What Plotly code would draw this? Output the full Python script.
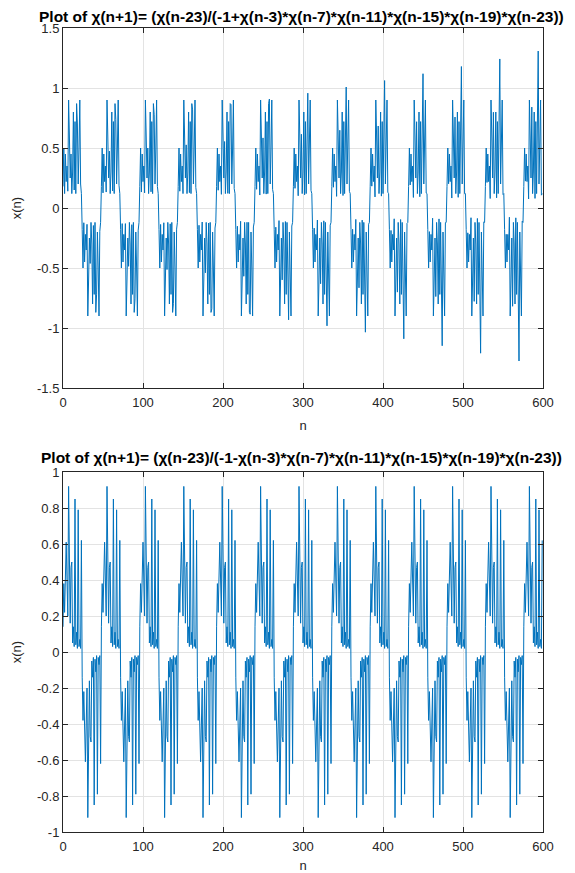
import plotly.graph_objects as go

# sample index
n = list(range(0, 600))

# x(n) for the "-1+" recurrence, 25 blocks of 24 samples
top_x = [
 0.18, 0.50, 0.120, 0.45, 0.22, 0.35, 0.140, 0.90, 0.60, 0.25, 0.450, 0.12, 0.30, 0.80, 0.150, 0.72, 0.12, 0.87, 0.700, 0.20, 0.50, 0.90, 0.200, 0.12,
 -0.18, -0.50, -0.123, -0.45, -0.22, -0.35, -0.136, -0.90, -0.60, -0.25, -0.462, -0.12, -0.30, -0.80, -0.146, -0.72, -0.12, -0.87, -0.718, -0.20, -0.50, -0.90, -0.195, -0.12,
 0.18, 0.50, 0.126, 0.45, 0.22, 0.35, 0.133, 0.90, 0.60, 0.25, 0.474, 0.12, 0.30, 0.80, 0.142, 0.72, 0.12, 0.87, 0.738, 0.20, 0.50, 0.90, 0.190, 0.12,
 -0.18, -0.50, -0.130, -0.45, -0.22, -0.35, -0.130, -0.90, -0.60, -0.25, -0.486, -0.12, -0.30, -0.80, -0.139, -0.72, -0.12, -0.87, -0.757, -0.20, -0.50, -0.90, -0.185, -0.12,
 0.18, 0.50, 0.133, 0.45, 0.22, 0.35, 0.126, 0.90, 0.60, 0.25, 0.500, 0.12, 0.30, 0.80, 0.135, 0.72, 0.12, 0.87, 0.777, 0.20, 0.50, 0.90, 0.180, 0.12,
 -0.18, -0.50, -0.137, -0.45, -0.22, -0.35, -0.123, -0.90, -0.60, -0.25, -0.513, -0.12, -0.30, -0.80, -0.132, -0.72, -0.12, -0.87, -0.797, -0.20, -0.50, -0.90, -0.176, -0.12,
 0.18, 0.50, 0.140, 0.45, 0.22, 0.35, 0.120, 0.90, 0.60, 0.25, 0.526, 0.12, 0.30, 0.80, 0.128, 0.72, 0.12, 0.87, 0.818, 0.20, 0.50, 0.90, 0.171, 0.12,
 -0.18, -0.50, -0.144, -0.45, -0.22, -0.35, -0.117, -0.90, -0.60, -0.25, -0.540, -0.12, -0.30, -0.80, -0.125, -0.72, -0.12, -0.87, -0.840, -0.20, -0.50, -0.90, -0.167, -0.12,
 0.18, 0.50, 0.148, 0.45, 0.22, 0.35, 0.114, 0.90, 0.60, 0.25, 0.554, 0.12, 0.30, 0.80, 0.122, 0.72, 0.12, 0.87, 0.862, 0.20, 0.50, 0.90, 0.162, 0.12,
 -0.18, -0.50, -0.152, -0.45, -0.22, -0.35, -0.111, -0.90, -0.60, -0.25, -0.569, -0.12, -0.30, -0.80, -0.119, -0.72, -0.12, -0.87, -0.885, -0.20, -0.50, -0.90, -0.158, -0.12,
 0.18, 0.50, 0.156, 0.45, 0.22, 0.35, 0.108, 0.90, 0.60, 0.25, 0.584, 0.12, 0.30, 0.80, 0.116, 0.72, 0.12, 0.87, 0.908, 0.20, 0.50, 0.90, 0.154, 0.12,
 -0.18, -0.50, -0.160, -0.45, -0.22, -0.35, -0.105, -0.90, -0.60, -0.25, -0.599, -0.12, -0.30, -0.80, -0.113, -0.72, -0.12, -0.87, -0.932, -0.20, -0.50, -0.90, -0.150, -0.12,
 0.18, 0.50, 0.164, 0.45, 0.22, 0.35, 0.102, 0.90, 0.60, 0.25, 0.615, 0.12, 0.30, 0.80, 0.110, 0.72, 0.12, 0.87, 0.957, 0.20, 0.50, 0.90, 0.146, 0.12,
 -0.18, -0.50, -0.168, -0.45, -0.22, -0.35, -0.100, -0.90, -0.60, -0.25, -0.631, -0.12, -0.30, -0.80, -0.107, -0.72, -0.12, -0.87, -0.982, -0.20, -0.50, -0.90, -0.143, -0.12,
 0.18, 0.50, 0.173, 0.45, 0.22, 0.35, 0.097, 0.90, 0.60, 0.25, 0.648, 0.12, 0.30, 0.80, 0.104, 0.72, 0.12, 0.87, 1.008, 0.20, 0.50, 0.90, 0.139, 0.12,
 -0.18, -0.50, -0.177, -0.45, -0.22, -0.35, -0.095, -0.90, -0.60, -0.25, -0.665, -0.12, -0.30, -0.80, -0.101, -0.72, -0.12, -0.87, -1.035, -0.20, -0.50, -0.90, -0.135, -0.12,
 0.18, 0.50, 0.182, 0.45, 0.22, 0.35, 0.092, 0.90, 0.60, 0.25, 0.683, 0.12, 0.30, 0.80, 0.099, 0.72, 0.12, 0.87, 1.062, 0.20, 0.50, 0.90, 0.132, 0.12,
 -0.18, -0.50, -0.187, -0.45, -0.22, -0.35, -0.090, -0.90, -0.60, -0.25, -0.701, -0.12, -0.30, -0.80, -0.096, -0.72, -0.12, -0.87, -1.090, -0.20, -0.50, -0.90, -0.128, -0.12,
 0.18, 0.50, 0.192, 0.45, 0.22, 0.35, 0.088, 0.90, 0.60, 0.25, 0.719, 0.12, 0.30, 0.80, 0.094, 0.72, 0.12, 0.87, 1.119, 0.20, 0.50, 0.90, 0.125, 0.12,
 -0.18, -0.50, -0.197, -0.45, -0.22, -0.35, -0.085, -0.90, -0.60, -0.25, -0.738, -0.12, -0.30, -0.80, -0.091, -0.72, -0.12, -0.87, -1.148, -0.20, -0.50, -0.90, -0.122, -0.12,
 0.18, 0.50, 0.202, 0.45, 0.22, 0.35, 0.083, 0.90, 0.60, 0.25, 0.758, 0.12, 0.30, 0.80, 0.089, 0.72, 0.12, 0.87, 1.179, 0.20, 0.50, 0.90, 0.119, 0.12,
 -0.18, -0.50, -0.207, -0.45, -0.22, -0.35, -0.081, -0.90, -0.60, -0.25, -0.778, -0.12, -0.30, -0.80, -0.087, -0.72, -0.12, -0.87, -1.210, -0.20, -0.50, -0.90, -0.116, -0.12,
 0.18, 0.50, 0.213, 0.45, 0.22, 0.35, 0.079, 0.90, 0.60, 0.25, 0.798, 0.12, 0.30, 0.80, 0.085, 0.72, 0.12, 0.87, 1.242, 0.20, 0.50, 0.90, 0.113, 0.12,
 -0.18, -0.50, -0.219, -0.45, -0.22, -0.35, -0.077, -0.90, -0.60, -0.25, -0.819, -0.12, -0.30, -0.80, -0.082, -0.72, -0.12, -0.87, -1.275, -0.20, -0.50, -0.90, -0.110, -0.12,
 0.18, 0.50, 0.224, 0.45, 0.22, 0.35, 0.075, 0.90, 0.60, 0.25, 0.841, 0.12, 0.30, 0.80, 0.080, 0.72, 0.12, 0.87, 1.308, 0.20, 0.50, 0.90, 0.107, 0.12,
]

# x(n) for the "-1-" recurrence, 25 blocks of 24 samples
bottom_x = [
 0.14, 0.38, 0.22, 0.55, 0.61, 0.40, 0.20, 0.92, 0.30, 0.16, 0.47, 0.50, 0.05, 0.14, 0.03, 0.85, 0.04, 0.11, 0.02, 0.79, 0.03, 0.07, 0.02, 0.62,
 -0.14, -0.38, -0.22, -0.55, -0.61, -0.40, -0.20, -0.92, -0.30, -0.16, -0.47, -0.50, -0.05, -0.14, -0.03, -0.85, -0.04, -0.11, -0.02, -0.79, -0.03, -0.07, -0.02, -0.62,
 0.14, 0.38, 0.22, 0.55, 0.61, 0.40, 0.20, 0.92, 0.30, 0.16, 0.47, 0.50, 0.05, 0.14, 0.03, 0.85, 0.04, 0.11, 0.02, 0.79, 0.03, 0.07, 0.02, 0.62,
 -0.14, -0.38, -0.22, -0.55, -0.61, -0.40, -0.20, -0.92, -0.30, -0.16, -0.47, -0.50, -0.05, -0.14, -0.03, -0.85, -0.04, -0.11, -0.02, -0.79, -0.03, -0.07, -0.02, -0.62,
 0.14, 0.38, 0.22, 0.55, 0.61, 0.40, 0.20, 0.92, 0.30, 0.16, 0.47, 0.50, 0.05, 0.14, 0.03, 0.85, 0.04, 0.11, 0.02, 0.79, 0.03, 0.07, 0.02, 0.62,
 -0.14, -0.38, -0.22, -0.55, -0.61, -0.40, -0.20, -0.92, -0.30, -0.16, -0.47, -0.50, -0.05, -0.14, -0.03, -0.85, -0.04, -0.11, -0.02, -0.79, -0.03, -0.07, -0.02, -0.62,
 0.14, 0.38, 0.22, 0.55, 0.61, 0.40, 0.20, 0.92, 0.30, 0.16, 0.47, 0.50, 0.05, 0.14, 0.03, 0.85, 0.04, 0.11, 0.02, 0.79, 0.03, 0.07, 0.02, 0.62,
 -0.14, -0.38, -0.22, -0.55, -0.61, -0.40, -0.20, -0.92, -0.30, -0.16, -0.47, -0.50, -0.05, -0.14, -0.03, -0.85, -0.04, -0.11, -0.02, -0.79, -0.03, -0.07, -0.02, -0.62,
 0.14, 0.38, 0.22, 0.55, 0.61, 0.40, 0.20, 0.92, 0.30, 0.16, 0.47, 0.50, 0.05, 0.14, 0.03, 0.85, 0.04, 0.11, 0.02, 0.79, 0.03, 0.07, 0.02, 0.62,
 -0.14, -0.38, -0.22, -0.55, -0.61, -0.40, -0.20, -0.92, -0.30, -0.16, -0.47, -0.50, -0.05, -0.14, -0.03, -0.85, -0.04, -0.11, -0.02, -0.79, -0.03, -0.07, -0.02, -0.62,
 0.14, 0.38, 0.22, 0.55, 0.61, 0.40, 0.20, 0.92, 0.30, 0.16, 0.47, 0.50, 0.05, 0.14, 0.03, 0.85, 0.04, 0.11, 0.02, 0.79, 0.03, 0.07, 0.02, 0.62,
 -0.14, -0.38, -0.22, -0.55, -0.61, -0.40, -0.20, -0.92, -0.30, -0.16, -0.47, -0.50, -0.05, -0.14, -0.03, -0.85, -0.04, -0.11, -0.02, -0.79, -0.03, -0.07, -0.02, -0.62,
 0.14, 0.38, 0.22, 0.55, 0.61, 0.40, 0.20, 0.92, 0.30, 0.16, 0.47, 0.50, 0.05, 0.14, 0.03, 0.85, 0.04, 0.11, 0.02, 0.79, 0.03, 0.07, 0.02, 0.62,
 -0.14, -0.38, -0.22, -0.55, -0.61, -0.40, -0.20, -0.92, -0.30, -0.16, -0.47, -0.50, -0.05, -0.14, -0.03, -0.85, -0.04, -0.11, -0.02, -0.79, -0.03, -0.07, -0.02, -0.62,
 0.14, 0.38, 0.22, 0.55, 0.61, 0.40, 0.20, 0.92, 0.30, 0.16, 0.47, 0.50, 0.05, 0.14, 0.03, 0.85, 0.04, 0.11, 0.02, 0.79, 0.03, 0.07, 0.02, 0.62,
 -0.14, -0.38, -0.22, -0.55, -0.61, -0.40, -0.20, -0.92, -0.30, -0.16, -0.47, -0.50, -0.05, -0.14, -0.03, -0.85, -0.04, -0.11, -0.02, -0.79, -0.03, -0.07, -0.02, -0.62,
 0.14, 0.38, 0.22, 0.55, 0.61, 0.40, 0.20, 0.92, 0.30, 0.16, 0.47, 0.50, 0.05, 0.14, 0.03, 0.85, 0.04, 0.11, 0.02, 0.79, 0.03, 0.07, 0.02, 0.62,
 -0.14, -0.38, -0.22, -0.55, -0.61, -0.40, -0.20, -0.92, -0.30, -0.16, -0.47, -0.50, -0.05, -0.14, -0.03, -0.85, -0.04, -0.11, -0.02, -0.79, -0.03, -0.07, -0.02, -0.62,
 0.14, 0.38, 0.22, 0.55, 0.61, 0.40, 0.20, 0.92, 0.30, 0.16, 0.47, 0.50, 0.05, 0.14, 0.03, 0.85, 0.04, 0.11, 0.02, 0.79, 0.03, 0.07, 0.02, 0.62,
 -0.14, -0.38, -0.22, -0.55, -0.61, -0.40, -0.20, -0.92, -0.30, -0.16, -0.47, -0.50, -0.05, -0.14, -0.03, -0.85, -0.04, -0.11, -0.02, -0.79, -0.03, -0.07, -0.02, -0.62,
 0.14, 0.38, 0.22, 0.55, 0.61, 0.40, 0.20, 0.92, 0.30, 0.16, 0.47, 0.50, 0.05, 0.14, 0.03, 0.85, 0.04, 0.11, 0.02, 0.79, 0.03, 0.07, 0.02, 0.62,
 -0.14, -0.38, -0.22, -0.55, -0.61, -0.40, -0.20, -0.92, -0.30, -0.16, -0.47, -0.50, -0.05, -0.14, -0.03, -0.85, -0.04, -0.11, -0.02, -0.79, -0.03, -0.07, -0.02, -0.62,
 0.14, 0.38, 0.22, 0.55, 0.61, 0.40, 0.20, 0.92, 0.30, 0.16, 0.47, 0.50, 0.05, 0.14, 0.03, 0.85, 0.04, 0.11, 0.02, 0.79, 0.03, 0.07, 0.02, 0.62,
 -0.14, -0.38, -0.22, -0.55, -0.61, -0.40, -0.20, -0.92, -0.30, -0.16, -0.47, -0.50, -0.05, -0.14, -0.03, -0.85, -0.04, -0.11, -0.02, -0.79, -0.03, -0.07, -0.02, -0.62,
 0.14, 0.38, 0.22, 0.55, 0.61, 0.40, 0.20, 0.92, 0.30, 0.16, 0.47, 0.50, 0.05, 0.14, 0.03, 0.85, 0.04, 0.11, 0.02, 0.79, 0.03, 0.07, 0.02, 0.62,
]

x_ticks = [0, 100, 200, 300, 400, 500, 600]
x_tick_labels = ["0", "100", "200", "300", "400", "500", "600"]
top_y_ticks = [-1.5, -1, -0.5, 0, 0.5, 1, 1.5]
top_y_labels = ["-1.5", "-1", "-0.5", "0", "0.5", "1", "1.5"]
bottom_y_ticks = [-1, -0.8, -0.6, -0.4, -0.2, 0, 0.2, 0.4, 0.6, 0.8, 1]
bottom_y_labels = ["-1", "-0.8", "-0.6", "-0.4", "-0.2", "0", "0.2", "0.4", "0.6", "0.8", "1"]

top_title = "Plot of χ(n+1)= (χ(n-23)/(-1+χ(n-3)*χ(n-7)*χ(n-11)*χ(n-15)*χ(n-19)*χ(n-23))"
bottom_title = "Plot of χ(n+1)= (χ(n-23)/(-1-χ(n-3)*χ(n-7)*χ(n-11)*χ(n-15)*χ(n-19)*χ(n-23))"

FONT = "Liberation Sans, Arial, Helvetica, sans-serif"
AX = "#262626"
LINE = "#0072BD"

fig = go.Figure()
fig.add_trace(go.Scatter(x=n, y=top_x, mode="lines", line=dict(color=LINE, width=1),
                         xaxis="x", yaxis="y", showlegend=False, hoverinfo="skip"))
fig.add_trace(go.Scatter(x=n, y=bottom_x, mode="lines", line=dict(color=LINE, width=1),
                         xaxis="x2", yaxis="y2", showlegend=False, hoverinfo="skip"))

def xaxis_style(anchor):
    return dict(domain=[0, 1], anchor=anchor, range=[0, 600], tickvals=x_ticks, ticktext=x_tick_labels,
                showgrid=True, gridcolor="#e3e3e3", gridwidth=1, zeroline=False, automargin=False,
                showline=True, linecolor=AX, linewidth=1, mirror="ticks",
                ticks="inside", ticklen=5, tickcolor=AX, tickwidth=1, ticklabelstandoff=2,
                tickfont=dict(family=FONT, size=13, color=AX),
                title=dict(text="n", font=dict(family=FONT, size=13, color=AX), standoff=12))

def yaxis_style(anchor, dom, rng, tv, tt):
    return dict(domain=dom, anchor=anchor, range=rng, tickvals=tv, ticktext=tt,
                showgrid=True, gridcolor="#e3e3e3", gridwidth=1, zeroline=False, automargin=False,
                showline=True, linecolor=AX, linewidth=1, mirror="ticks",
                ticks="inside", ticklen=5, tickcolor=AX, tickwidth=1,
                tickfont=dict(family=FONT, size=13, color=AX),
                title=dict(text="x(n)", font=dict(family=FONT, size=13, color=AX), standoff=12))

# page has an 8 px body margin, so the figure is drawn 8 px in from the top-left corner
top_dom = [444 / 804, 1]
bot_dom = [0, 360 / 804]

fig.update_layout(
    width=567, height=865,
    margin=dict(l=55, r=32, t=20, b=41),
    paper_bgcolor="white", plot_bgcolor="white",
    font=dict(family=FONT, color=AX),
    xaxis=xaxis_style("y"),
    yaxis=yaxis_style("x", top_dom, [-1.5, 1.5], top_y_ticks, top_y_labels),
    xaxis2=xaxis_style("y2"),
    yaxis2=yaxis_style("x2", bot_dom, [-1, 1], bottom_y_ticks, bottom_y_labels),
    annotations=[
        dict(text="<b>" + top_title + "</b>", x=0.5, xref="paper", y=top_dom[1], yref="paper",
             yanchor="bottom", xanchor="center", xshift=-2, yshift=1, showarrow=False,
             font=dict(family=FONT, size=15.5, color="black")),
        dict(text="<b>" + bottom_title + "</b>", x=0.5, xref="paper", y=bot_dom[1], yref="paper",
             yanchor="bottom", xanchor="center", xshift=-2, yshift=4, showarrow=False,
             font=dict(family=FONT, size=15.5, color="black")),
    ],
)

fig.write_html("out.html")
